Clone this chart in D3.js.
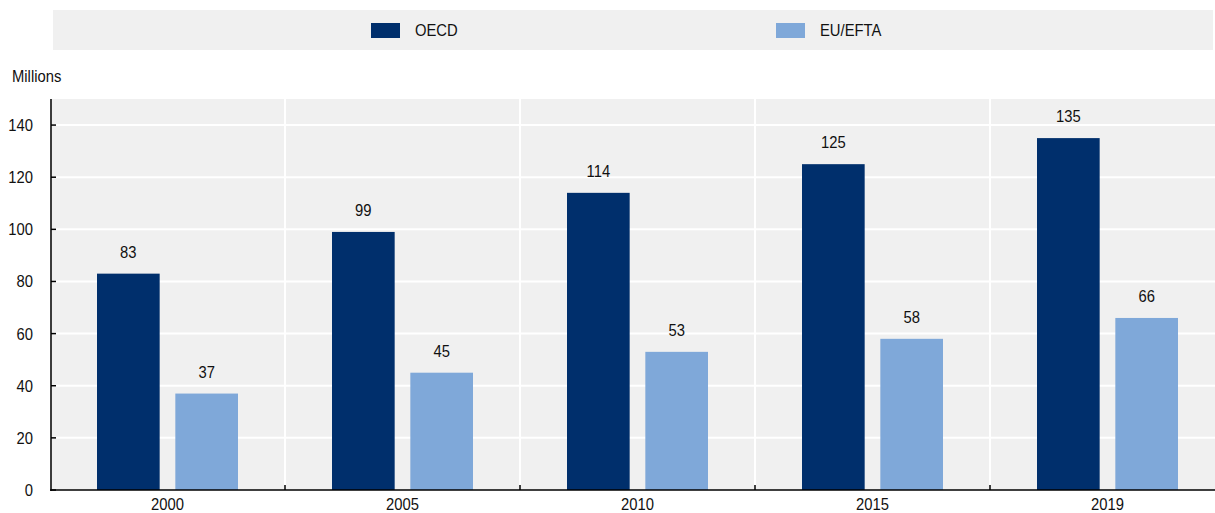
<!DOCTYPE html>
<html>
<head>
<meta charset="utf-8">
<script src="https://cdn.jsdelivr.net/npm/d3@7"></script>
<style>
  html, body { margin: 0; padding: 0; background: #fff; }
  svg { display: block; }
  text { font-family: "Liberation Sans", Arial, sans-serif; fill: #111; }
</style>
</head>
<body>
<svg id="chart" width="1215" height="513"></svg>
<script>
// Population figures, in millions
const years = ["2000", "2005", "2010", "2015", "2019"];
const oecd = [83, 99, 114, 125, 135];
const euEfta = [37, 45, 53, 58, 66];
const seriesNames = ["OECD", "EU/EFTA"];
const seriesColors = ["#002f6c", "#7fa8d9"];
const yTicks = [0, 20, 40, 60, 80, 100, 120, 140];

const svg = d3.select("#chart");
const W = 1215, H = 513;
const plot = { left: 50, right: 1225, top: 99, bottom: 490 };
const fontSize = 17;
const narrow = 0.87; // horizontal squeeze for a condensed look

// Place condensed text at (x, y)
function label(sel, xFn, yFn) {
  return sel.attr("transform", (d, i) =>
    `translate(${typeof xFn === "function" ? xFn(d, i) : xFn},${typeof yFn === "function" ? yFn(d, i) : yFn}) scale(${narrow},1)`)
    .attr("font-size", fontSize);
}

// Legend strip
const legend = svg.append("g");
legend.append("rect")
  .attr("x", 53).attr("y", 10).attr("width", 1160).attr("height", 40)
  .attr("fill", "#f0f0f0");
const legendX = [371, 776];
seriesNames.forEach((name, i) => {
  legend.append("rect")
    .attr("x", legendX[i]).attr("y", 23).attr("width", 29).attr("height", 15)
    .attr("fill", seriesColors[i]);
  label(legend.append("text"), legendX[i] + 44, 36).text(name);
});

// Scales
const x = d3.scaleBand().domain(years).range([plot.left, plot.right]).paddingInner(0).paddingOuter(0);
const inner = d3.scaleBand().domain(seriesNames).range([0, x.bandwidth()]).paddingInner(0.2).paddingOuter(0.6);
const y = d3.scaleLinear().domain([0, 150]).range([plot.bottom, plot.top]);

// Plot background
svg.append("rect")
  .attr("x", plot.left).attr("y", plot.top)
  .attr("width", plot.right - plot.left).attr("height", plot.bottom - plot.top)
  .attr("fill", "#f0f0f0");

// Gridlines
svg.append("g").selectAll("line")
  .data(yTicks.filter(d => d > 0))
  .join("line")
  .attr("x1", plot.left).attr("x2", plot.right)
  .attr("y1", d => y(d)).attr("y2", d => y(d))
  .attr("stroke", "#fff").attr("stroke-width", 2);
svg.append("g").selectAll("line")
  .data(years.slice(1))
  .join("line")
  .attr("x1", d => x(d)).attr("x2", d => x(d))
  .attr("y1", plot.top).attr("y2", plot.bottom)
  .attr("stroke", "#fff").attr("stroke-width", 2);

// Bars with value labels
const series = [oecd, euEfta];
const groups = svg.append("g").selectAll("g")
  .data(years)
  .join("g")
  .attr("transform", d => `translate(${x(d)},0)`);
seriesNames.forEach((name, s) => {
  groups.append("rect")
    .attr("x", inner(name))
    .attr("width", inner.bandwidth())
    .attr("y", (d, i) => y(series[s][i]))
    .attr("height", (d, i) => y(0) - y(series[s][i]))
    .attr("fill", seriesColors[s]);
  label(groups.append("text"),
        inner(name) + inner.bandwidth() / 2,
        (d, i) => y(series[s][i]) - 16)
    .attr("text-anchor", "middle")
    .text((d, i) => series[s][i]);
});

// Y axis: inward ticks, labels on the left
const yAxis = svg.append("g").attr("transform", `translate(${plot.left + 1},0)`);
yAxis.append("line")
  .attr("x1", 0).attr("x2", 0).attr("y1", plot.top).attr("y2", plot.bottom + 1)
  .attr("stroke", "#000").attr("stroke-width", 1.5);
yAxis.selectAll("line.tick")
  .data(yTicks)
  .join("line")
  .attr("class", "tick")
  .attr("x1", 0).attr("x2", 5)
  .attr("y1", d => y(d)).attr("y2", d => y(d))
  .attr("stroke", "#000").attr("stroke-width", 1.5);
label(yAxis.selectAll("text").data(yTicks).join("text"), -18, d => y(d))
  .attr("dy", "0.35em")
  .attr("text-anchor", "end")
  .text(d => d);

label(svg.append("text"), 12, 82).text("Millions");

// X axis: baseline with upward ticks at category boundaries
const xAxis = svg.append("g");
xAxis.append("line")
  .attr("x1", plot.left).attr("x2", W).attr("y1", plot.bottom).attr("y2", plot.bottom)
  .attr("stroke", "#000").attr("stroke-width", 1.5);
xAxis.selectAll("line.tick")
  .data(years.slice(1))
  .join("line")
  .attr("class", "tick")
  .attr("x1", d => x(d)).attr("x2", d => x(d))
  .attr("y1", plot.bottom).attr("y2", plot.bottom - 5)
  .attr("stroke", "#000").attr("stroke-width", 1.5);
label(xAxis.selectAll("text").data(years).join("text"), d => x(d) + x.bandwidth() / 2, 509.5)
  .attr("text-anchor", "middle")
  .text(d => d);
</script>
</body>
</html>
